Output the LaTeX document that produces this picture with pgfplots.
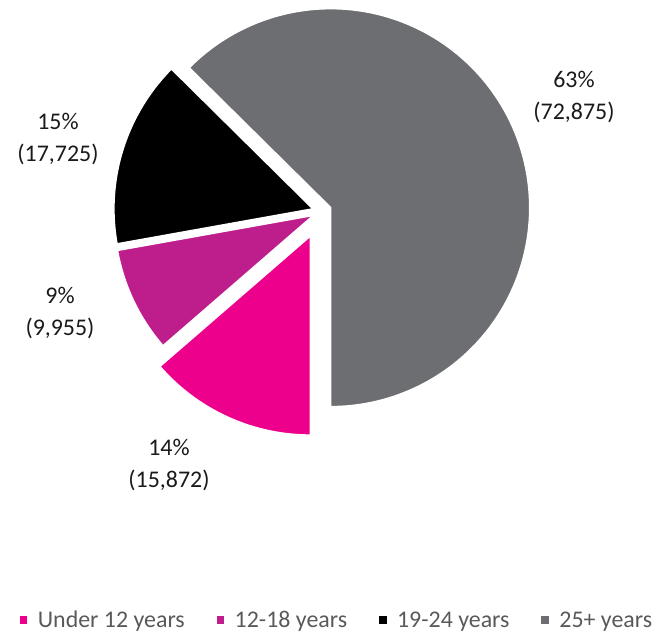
\documentclass[border=0pt]{standalone}
\usepackage{pgfplots}
\pgfplotsset{compat=1.18}
\usepackage{pgfplotstable}
\usepackage{fontspec}
\setmainfont{Carlito}
\definecolor{cUnder}{HTML}{EC008C}
\definecolor{cTeen}{HTML}{BE1E8C}
\definecolor{cYoung}{HTML}{000000}
\definecolor{cAdult}{HTML}{6D6E71}
\definecolor{labtext}{HTML}{1A1A1A}
\definecolor{legtext}{HTML}{595959}

\pgfplotstableread{
value explode
15872 27
9955 9
17725 9
72875 10
}\piedata

\newcommand\makeslice[5]{% name, start, value, explode, color
  \edef\ang{\fpeval{360*#3/\total}}%
  \edef\endang{\fpeval{round(#2+\ang,4)}}%
  \edef\midang{\fpeval{#2+\ang/2}}%
  \edef\scx{\fpeval{round(\Cx+#4*sind(\midang),4)}}%
  \edef\scy{\fpeval{round(\Cy-#4*cosd(\midang),4)}}%
  \expandafter\xdef\csname slice#1\endcsname{\noexpand\addplot[fill=#5, draw=white, line width=1.5bp, domain=#2:\endang, samples=150] ({\scx+\R*sin(x)}, {\scy-\R*cos(x)}) -- (axis cs:\scx,\scy) -- cycle;}%
  \xdef\nextstart{\endang}%
}

\begin{document}
\begin{tikzpicture}
\pgfplotstablegetelem{0}{value}\of\piedata \edef\va{\pgfplotsretval}
\pgfplotstablegetelem{1}{value}\of\piedata \edef\vb{\pgfplotsretval}
\pgfplotstablegetelem{2}{value}\of\piedata \edef\vc{\pgfplotsretval}
\pgfplotstablegetelem{3}{value}\of\piedata \edef\vd{\pgfplotsretval}
\pgfplotstablegetelem{0}{explode}\of\piedata \edef\ea{\pgfplotsretval}
\pgfplotstablegetelem{1}{explode}\of\piedata \edef\eb{\pgfplotsretval}
\pgfplotstablegetelem{2}{explode}\of\piedata \edef\ec{\pgfplotsretval}
\pgfplotstablegetelem{3}{explode}\of\piedata \edef\ed{\pgfplotsretval}
\edef\total{\fpeval{\va+\vb+\vc+\vd}}
\def\Cx{321.5}\def\Cy{211.5}\def\R{199}
\makeslice{A}{180}{\va}{\ea}{cUnder}
\makeslice{B}{\nextstart}{\vb}{\eb}{cTeen}
\makeslice{C}{\nextstart}{\vc}{\ec}{cYoung}
\makeslice{D}{\nextstart}{\vd}{\ed}{cAdult}
\begin{axis}[
  scale only axis,
  axis line style={draw=none},
  xtick=\empty, ytick=\empty,
  width=656bp, height=634bp,
  xmin=0, xmax=656, ymin=0, ymax=634,
  y dir=reverse, clip=false,
  legend columns=4,
  legend cell align=left,
  legend style={at={(axis cs:337,620)}, anchor=center, draw=none, fill=none,
    inner sep=0pt,
    font=\fontsize{24}{28}\selectfont, text=legtext,
    /tikz/every even column/.append style={column sep=30bp}},
  legend image code/.code={\fill[#1, draw=none] (0bp,-3.8bp) rectangle (7.6bp,3.8bp); \path[draw=none, fill=none] (0bp,0bp) -- (16bp,0bp);},
]
\sliceA
\addlegendentry{Under 12 years}
\sliceB
\addlegendentry{12-18 years}
\sliceC
\addlegendentry{19-24 years}
\sliceD
\addlegendentry{25+ years}
\begin{scope}[every node/.style={align=center, text=labtext, font=\fontsize{24}{32}\selectfont, inner sep=0pt}]
\node at (axis cs:574,97) {63\%\\(72,875)};
\node at (axis cs:58,139) {15\%\\(17,725)};
\node at (axis cs:60,313) {9\%\\(9,955)};
\node at (axis cs:169,465) {14\%\\(15,872)};
\end{scope}
\end{axis}
\end{tikzpicture}
\end{document}
